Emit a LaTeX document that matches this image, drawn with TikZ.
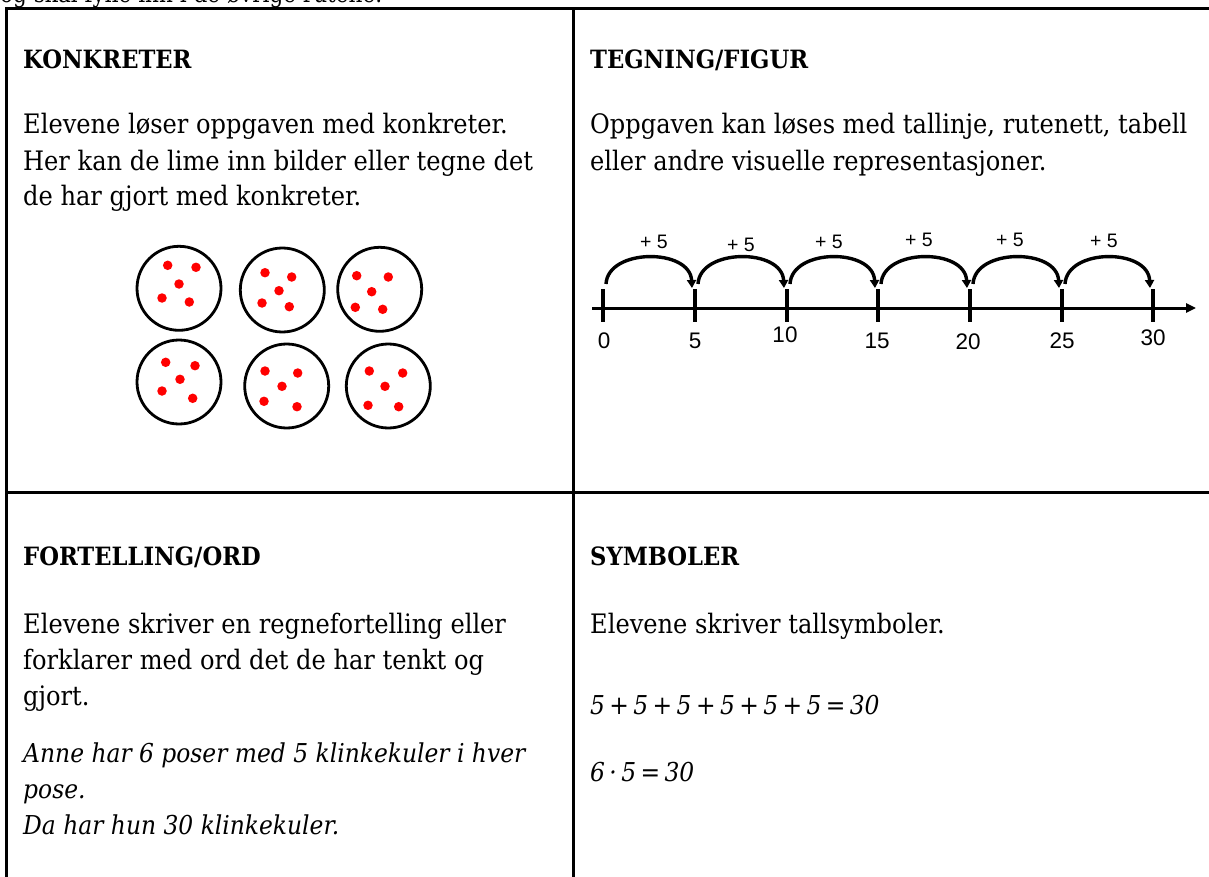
\documentclass[tikz,border=0pt]{standalone}
\usepackage{fontspec}
\setmainfont{DejaVu Serif Condensed}
\newfontfamily\nlfont{Liberation Sans}
\usetikzlibrary{arrows.meta,calc}
\newcommand\tightspacing{\spaceskip=4.4pt plus 1pt\relax}
\tikzset{
  gridline/.style={line width=3pt, line cap=rect},
  txt/.style={anchor=base west, inner sep=0pt, font=\fontsize{26.8}{30}\selectfont},
  headtxt/.style={txt, font=\fontsize{25.2}{30}\selectfont\bfseries},
  itxt/.style={txt, font=\fontsize{26}{30}\selectfont\itshape},
  bag/.style={circle, draw, line width=2.8pt, minimum size=84pt, inner sep=0pt},
  marble/.style={circle, fill=red, minimum size=9.5pt, inner sep=0pt},
  jump/.style={line width=3.4pt, -{Triangle[length=8pt,width=9pt]}},
  tickmark/.style={line width=3.2pt},
  axisline/.style={line width=3pt, -{Triangle[length=10pt,width=9pt]}},
  steplbl/.style={font=\nlfont\fontsize{19.5}{22}\selectfont, inner sep=0pt},
  numlbl/.style={font=\nlfont\fontsize{22.5}{24}\selectfont, inner sep=0pt},
}
\begin{document}
\begin{tikzpicture}[x=1pt,y=-1pt]
\useasboundingbox (0,0) rectangle (1209,877);
\clip (0,0) rectangle (1209,877);
\fill[white] (0,0) rectangle (1209,877);

% text above the table (cut off)
\node[txt, font=\fontsize{24}{30}\selectfont] (intro) at (0,2.5) {og skal fylle inn i de øvrige rutene.};

% table lines
\coordinate (tl) at (6,9);
\coordinate (tr) at (1215,9);
\coordinate (tm) at (573,9);
\coordinate (bl) at (6,885);
\coordinate (bm) at (573,885);
\coordinate (ml) at (6,492);
\coordinate (mr) at (1215,492);
\draw[gridline] (tl) -- (tr);
\draw[gridline] (tl) -- (bl);
\draw[gridline] (tm) -- (bm);
\draw[gridline] (ml) -- (mr);

% cell 1: KONKRETER
\node[headtxt] (h1) at (23,69) {KONKRETER};
\node[txt] (k1) at (23,134) {Elevene løser oppgaven med konkreter.};
\node[txt] (k2) at (23,171) {Her kan de lime inn bilder eller tegne det};
\node[txt] (k3) at (23,206) {de har gjort med konkreter.};

% bags with marbles
\foreach \n/\cx/\cy in {1/179/288.3, 2/282.3/290, 3/379.7/289.3, 4/179/382, 5/286.7/386, 6/388.3/386}
  \node[bag] (bag\n) at (\cx,\cy) {};
\foreach \n/\mx/\my in {
  11/167.7/265.3, 12/196/267.3, 13/179/284, 14/162/298, 15/189.3/302,
  21/265/272.7, 22/291.7/277, 23/279/290.7, 24/262/303, 25/289.3/306.7,
  31/356.7/275.7, 32/388.3/277, 33/371.7/291.7, 34/355.3/307.3, 35/382.7/309.3,
  41/165.7/362.3, 42/195/365.7, 43/180/379.3, 44/162/391, 45/192.7/398.3,
  51/265/371, 52/297.7/373, 53/282/386.3, 54/264/401.3, 55/297/406.7,
  61/369.3/371, 62/402.7/373, 63/385/386.3, 64/368/405.3, 65/398.7/406.7}
  \node[marble] (m\n) at (\mx,\my) {};

% cell 2: TEGNING/FIGUR
\node[headtxt] (h2) at (590,69) {TEGNING/FIGUR};
\node[txt] (t1) at (590,134) {Oppgaven kan løses med tallinje, rutenett, tabell};
\node[txt] (t2) at (590,171) {eller andre visuelle representasjoner.};

% number line
\coordinate (axs) at (592,308);
\coordinate (axe) at (1196,308);
\draw[axisline] (axs) -- (axe);
\foreach \i/\tx/\lx/\ly/\lab in {0/603/604/341/0, 1/695/695/341/5, 2/787/785/335/10, 3/878/877/341/15, 4/970/968/342/20, 5/1062/1062/341/25, 6/1153/1153/338/30}{
  \coordinate (tt\i) at (\tx,289);
  \coordinate (tb\i) at (\tx,322);
  \draw[tickmark] (tt\i) -- (tb\i);
  \node[numlbl] (n\i) at (\lx,\ly) {\lab};
}
\foreach \i/\j/\lx/\ly in {0/1/654/242, 1/2/741/245, 2/3/829/242, 3/4/919/240, 4/5/1010/240, 5/6/1104/241}{
  \coordinate (js\i) at ($(tt\i)+(3,-5)$);
  \coordinate (je\i) at ($(tt\j)+(-3,-1)$);
  \draw[jump] (js\i) .. controls ($(js\i)+(2,-36)$) and ($(je\i)+(-2,-40)$) .. (je\i);
  \node[steplbl] (p\i) at (\lx,\ly) {+ 5};
}

% cell 3: FORTELLING/ORD
\node[headtxt] (h3) at (23,565) {FORTELLING/ORD};
\node[txt] (f1) at (23,633) {Elevene skriver en regnefortelling eller};
\node[txt] (f2) at (23,669) {forklarer med ord det de har tenkt og};
\node[txt] (f3) at (23,705) {gjort.};
\node[itxt] (f4) at (23,762) {Anne har 6 poser med 5 klinkekuler i hver};
\node[itxt] (f5) at (23,798) {pose.};
\node[itxt] (f6) at (23,834) {Da har hun 30 klinkekuler.};

% cell 4: SYMBOLER
\node[headtxt] (h4) at (590,565) {SYMBOLER};
\node[txt] (s1) at (590,633) {Elevene skriver tallsymboler.};
\node[itxt] (s2) at (590,714) {\tightspacing 5 + 5 + 5 + 5 + 5 + 5 = 30};
\node[itxt] (s3) at (590,781) {\tightspacing 6 · 5 = 30};
\end{tikzpicture}
\end{document}
